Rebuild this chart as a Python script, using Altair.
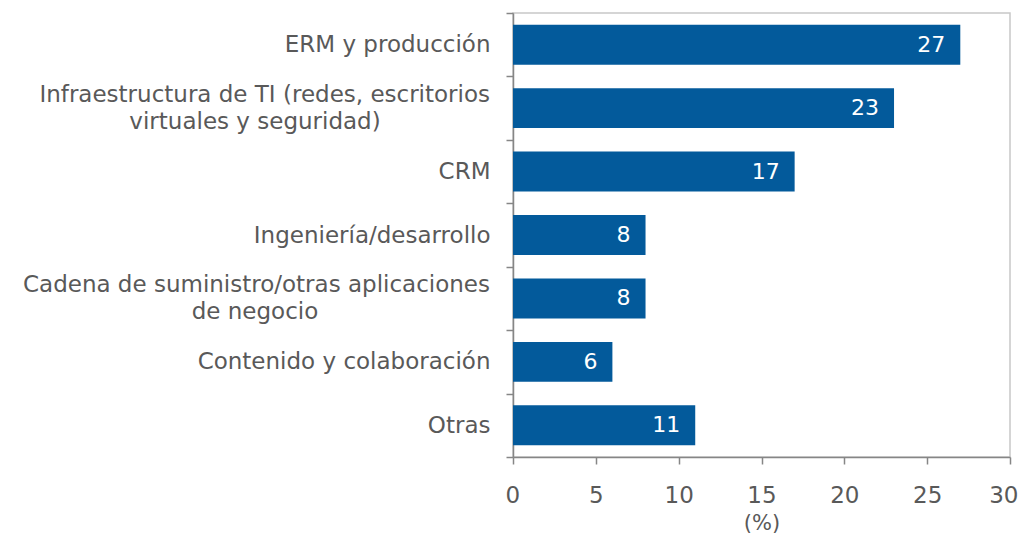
import altair as alt
import pandas as pd

categories = [
    "ERM y producción",
    "Infraestructura  de TI (redes, escritorios",
    "CRM",
    "Ingeniería/desarrollo",
    "Cadena de suministro/otras aplicaciones",
    "Contenido y colaboración",
    "Otras",
]
second_lines = ["", "virtuales y seguridad)", "", "", "de negocio", "", ""]
values = [27, 23, 17, 8, 8, 6, 11]
x_ticks = [0, 5, 10, 15, 20, 25, 30]

df = pd.DataFrame({"cat": categories, "line2": second_lines, "val": values})

FONT = "DejaVu Sans"
GRAY = "#595959"
BLUE = "#035a9b"
AXIS_GRAY = "#868686"

two_line = [c for c, l in zip(categories, second_lines) if l]
arr = "[" + ",".join("'" + c + "'" for c in two_line) + "]"
label_expr = f"indexof({arr}, datum.label) >= 0 ? '' : datum.label"

y_enc = alt.Y(
    "cat:N",
    sort=categories,
    scale=alt.Scale(paddingInner=0, paddingOuter=0),
    axis=alt.Axis(
        title=None,
        labelExpr=label_expr,
        labelFontSize=23,
        labelFont=FONT,
        labelColor=GRAY,
        labelPadding=16,
        labelLimit=700,
        tickBand="extent",
        tickSize=7,
        tickColor=AXIS_GRAY,
        tickWidth=1.5,
        domainColor=AXIS_GRAY,
        domainWidth=1.5,
    ),
)

x_enc = alt.X(
    "val:Q",
    scale=alt.Scale(domain=[0, 30], nice=False),
    axis=alt.Axis(
        values=x_ticks,
        title="(%)",
        titleFont=FONT,
        titleFontSize=21,
        titleFontWeight="normal",
        titleColor=GRAY,
        titlePadding=5,
        labelFontSize=23,
        labelFont=FONT,
        labelColor=GRAY,
        labelPadding=20,
        labelFlush=True,
        labelFlushOffset=8,
        tickSize=7,
        tickColor=AXIS_GRAY,
        tickWidth=1.5,
        domainColor=AXIS_GRAY,
        domainWidth=1.5,
        grid=False,
    ),
)

base = alt.Chart(df)
y_plain = alt.Y("cat:N", sort=categories)

bars = base.mark_bar(color=BLUE, height=alt.RelativeBandSize(band=0.63)).encode(
    x=x_enc, y=y_enc
)

bar_labels = base.mark_text(
    align="right", baseline="middle", dx=-15, color="white", fontSize=22, font=FONT
).encode(x="val:Q", y=y_plain, text="val:Q")

two = base.transform_filter("datum.line2 != ''")

line1 = two.mark_text(
    align="right", baseline="middle", dy=-13.5, fontSize=23, font=FONT, color=GRAY
).encode(x=alt.value(-23), y=y_plain, text="cat:N")

line2 = two.mark_text(
    align="center", baseline="middle", dy=13.5, fontSize=23, font=FONT, color=GRAY
).encode(x=alt.value(-258), y=y_plain, text="line2:N")

chart = (
    alt.layer(bars, bar_labels, line1, line2)
    .properties(
        width=497,
        height=444,
        autosize=alt.AutoSizeParams(type="none"),
        padding={"left": 505, "top": 5, "right": 9, "bottom": 80},
    )
    .configure_view(stroke="#c8c8c8", strokeWidth=1.5)
)

chart.save("out.html", embed_options={"renderer": "svg", "actions": False})
